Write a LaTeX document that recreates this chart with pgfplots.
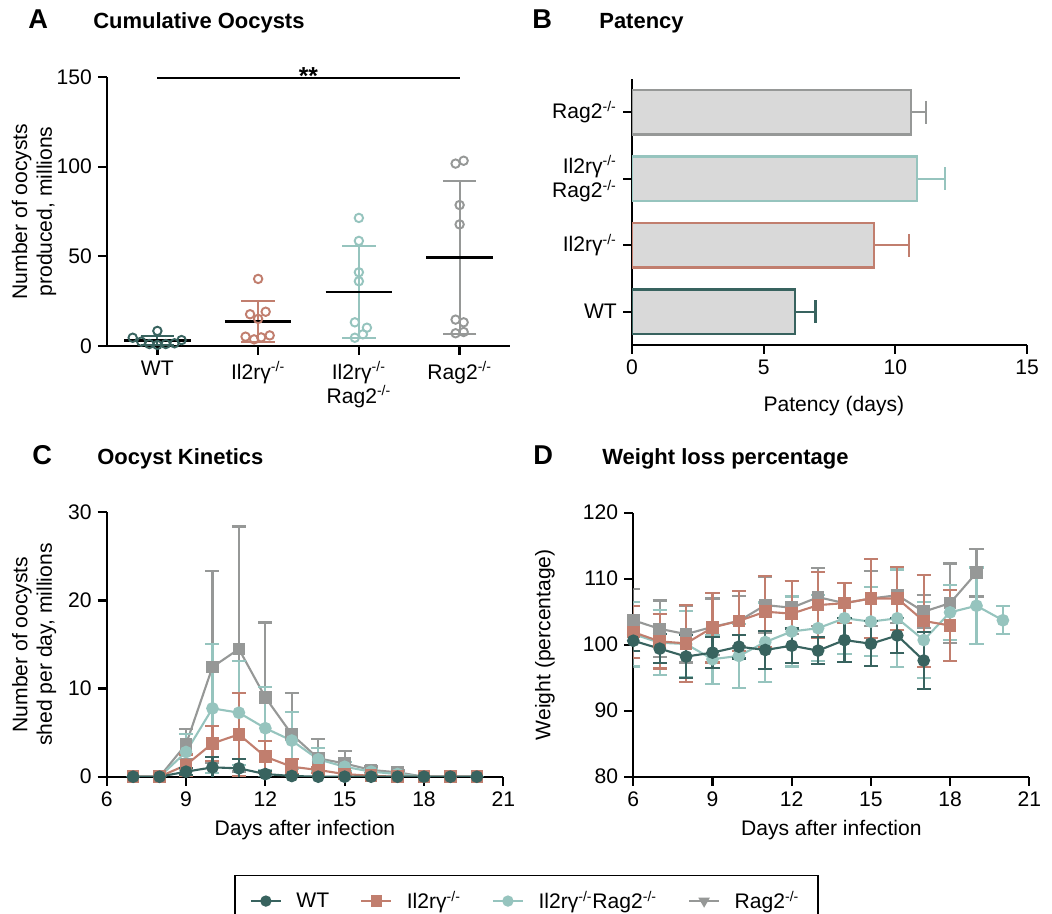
\documentclass[border=0pt]{standalone}
\usepackage{fontspec}
\setmainfont{Liberation Sans}
\usepackage{pgfplots}
\usepackage{pgfplotstable}
\pgfplotsset{compat=1.18}

\definecolor{cWT}{HTML}{38635F}
\definecolor{cIL}{HTML}{C17E6E}
\definecolor{cDK}{HTML}{96C4BE}
\definecolor{cRG}{HTML}{969897}
\definecolor{barfill}{HTML}{D9D9D9}

\newcommand{\ko}{\textsuperscript{-/-}}
\newcommand{\fs}{\fontsize{12}{14}\selectfont}

% kinetics (day, mean, sd), millions per day
\pgfplotstableread{
d m s
7 0 0
8 0 0
9 0.57 0.4
10 1.06 1.2
11 0.95 1.1
12 0.30 0.3
13 0.08 0.05
14 0 0
15 0 0
16 0 0
17 0 0
18 0 0
19 0 0
20 0 0
}\kinWT
\pgfplotstableread{
d m s
7 0 0
8 0 0
9 1.32 1.2
10 3.78 2.0
11 4.80 4.7
12 2.27 1.8
13 1.13 0.84
14 0.76 0.3
15 0.30 0.1
16 0.10 0.05
17 0 0
18 0 0
19 0 0
20 0 0
}\kinIL
\pgfplotstableread{
d m s
7 0 0
8 0 0
9 2.80 2.0
10 7.75 7.3
11 7.26 5.9
12 5.50 4.7
13 4.10 3.2
14 1.97 1.3
15 1.13 0.5
16 0.57 0.3
17 0.30 0.1
18 0 0
19 0 0
20 0 0
}\kinDK
\pgfplotstableread{
d m s
7 0 0
8 0 0
9 3.67 1.7
10 12.44 10.9
11 14.49 13.9
12 9.00 8.5
13 4.80 4.7
14 2.08 2.2
15 1.50 1.4
16 0.76 0.4
17 0.50 0.2
18 0 0
19 0 0
20 0 0
}\kinRG

% weight (day, mean, sd), percent
\pgfplotstableread{
d m s
6 100.6 1.6
7 99.4 2.2
8 98.2 3.3
9 98.8 2.3
10 99.7 1.8
11 99.2 2.9
12 99.85 2.6
13 99.1 2.0
14 100.7 3.3
15 100.15 3.4
16 101.4 2.7
17 97.6 4.3
}\wtWT
\pgfplotstableread{
d m s
6 101.9 3.9
7 100.5 4.1
8 100.2 5.8
9 102.6 5.3
10 103.6 4.6
11 105.0 5.4
12 104.7 5.0
13 106.0 5.0
14 106.3 3.0
15 107.0 6.0
16 107.0 4.8
17 103.6 7.0
18 102.9 5.4
}\wtIL
\pgfplotstableread{
d m s
6 101.6 4.9
7 100.3 4.9
8 100.1 5.0
9 97.8 3.7
10 98.3 4.8
11 100.4 6.0
12 102.0 5.3
13 102.5 5.0
14 104.0 5.4
15 103.5 5.2
16 104.0 7.4
17 100.7 5.8
18 104.9 4.2
19 105.9 5.8
20 103.7 2.1
}\wtDK
\pgfplotstableread{
d m s
6 103.7 4.7
7 102.4 4.3
8 101.6 4.3
9 102.7 4.3
10 103.6 3.8
11 106.0 4.2
12 105.6 4.0
13 107.2 4.4
14 106.3 3.0
15 107.0 4.2
16 107.5 4.2
17 105.0 2.5
18 106.3 6.0
19 110.9 3.6
}\wtRG

\pgfplotsset{
  prism/.style={scale only axis, anchor=south west,
    axis x line*=bottom, axis y line*=left,
    axis line style={line width=1.3pt},
    every tick/.style={black, line width=1.3pt},
    major tick length=0.18cm, tick align=outside,
    tick label style={font=\fs}, label style={font=\fs},
    /pgf/number format/assume math mode=true},
  ser/.style={color=#1, line width=1.2pt, mark options={solid, fill=#1},
    error bars/.cd, y dir=both, y explicit,
    error bar style={color=#1, line width=1.2pt},
    error mark options={rotate=90, color=#1, line width=1.2pt, mark size=4pt},
    /pgfplots/.cd},
  dots/.style={only marks, mark=o, mark size=2.4pt, color=#1, mark options={line width=1.1pt}},
  sdbar/.style={color=#1, mark=none, forget plot,
    error bars/.cd, y dir=both, y explicit,
    error bar style={color=#1, line width=1.2pt},
    error mark options={rotate=90, color=#1, line width=1.2pt, mark size=9.5pt},
    /pgfplots/.cd},
  hbar/.style={xbar, bar width=0.67, bar shift=0pt, fill=barfill, draw=#1, line width=1.2pt,
    error bars/.cd, x dir=plus, x explicit,
    error bar style={color=#1, line width=1.2pt},
    error mark options={rotate=90, color=#1, line width=1.2pt, mark size=6.5pt},
    /pgfplots/.cd},
}

\begin{document}
\begin{tikzpicture}
\useasboundingbox (0,0) rectangle (21.04cm,18.28cm);

% panel titles
\node[anchor=base west, inner sep=0, font=\fontsize{15.5}{18}\selectfont\bfseries] at (0.56cm,17.7cm) {A};
\node[anchor=base west, inner sep=0, font=\fontsize{12.5}{15}\selectfont\bfseries] at (1.86cm,17.7cm) {Cumulative Oocysts};
\node[anchor=base west, inner sep=0, font=\fontsize{15.5}{18}\selectfont\bfseries] at (10.64cm,17.7cm) {B};
\node[anchor=base west, inner sep=0, font=\fontsize{12.5}{15}\selectfont\bfseries] at (11.98cm,17.7cm) {Patency};
\node[anchor=base west, inner sep=0, font=\fontsize{15.5}{18}\selectfont\bfseries] at (0.64cm,8.98cm) {C};
\node[anchor=base west, inner sep=0, font=\fontsize{12.5}{15}\selectfont\bfseries] at (1.94cm,8.98cm) {Oocyst Kinetics};
\node[anchor=base west, inner sep=0, font=\fontsize{15.5}{18}\selectfont\bfseries] at (10.66cm,8.98cm) {D};
\node[anchor=base west, inner sep=0, font=\fontsize{12.5}{15}\selectfont\bfseries] at (12.04cm,8.98cm) {Weight loss percentage};

% A: cumulative oocysts
\begin{axis}[prism, at={(2.14cm,11.36cm)}, width=8.06cm, height=5.38cm,
  xmin=-0.5, xmax=3.5, ymin=0, ymax=150, ytick={0,50,100,150},
  xtick={0,1,2,3},
  xticklabels={WT, Il2rγ\ko, {Il2rγ\ko\\Rag2\ko}, Rag2\ko},
  xticklabel style={align=center},
  ylabel={Number of oocysts\\produced, millions},
  ylabel style={at={(axis description cs:-0.181,0.5)}, anchor=center, align=center},
  clip=false]
\addplot[dots=cWT] coordinates {(-0.245,4.6) (-0.16,2.4) (-0.08,1.1) (0,8.4) (0,0.6) (0.083,1.1) (0.17,1.5) (0.24,3.3)};
\addplot[dots=cIL] coordinates {(1,37.4) (0.92,17.7) (1.075,19.1) (1,15.1) (0.875,5.2) (0.96,3.7) (1.03,4.8) (1.115,5.9)};
\addplot[dots=cDK] coordinates {(2,71.4) (2,58.6) (2,41.1) (2,36.1) (1.96,13.2) (2.08,10.2) (2.04,6.5) (1.96,4.6)};
\addplot[dots=cRG] coordinates {(2.96,101.7) (3.04,103.3) (3,78.6) (3,67.8) (2.96,14.7) (3.04,13.2) (2.96,7.1) (3.04,7.8)};
\addplot[sdbar=cWT] coordinates {(0,3.0) +- (0,2.6)};
\addplot[sdbar=cIL] coordinates {(1,13.6) +- (0,11.6)};
\addplot[sdbar=cDK] coordinates {(2,30.1) +- (0,25.6)};
\addplot[sdbar=cRG] coordinates {(3,49.4) +- (0,42.8)};
\addplot[black, line width=1.5pt] coordinates {(-0.33,3.0) (0.33,3.0)};
\addplot[black, line width=1.5pt] coordinates {(0.67,13.6) (1.33,13.6)};
\addplot[black, line width=1.5pt] coordinates {(1.67,30.1) (2.33,30.1)};
\addplot[black, line width=1.5pt] coordinates {(2.67,49.4) (3.33,49.4)};
\addplot[black, line width=1.2pt] coordinates {(0,149.6) (3,149.6)};
\node[anchor=base, inner sep=0, font=\fontsize{14}{16}\selectfont\bfseries, yshift=-0.13cm] at (axis cs:1.5,149.6) {**};
\end{axis}

% B: patency
\begin{axis}[prism, at={(12.64cm,11.38cm)}, width=7.9cm, height=5.32cm,
  xmin=0, xmax=15, ymin=-0.5, ymax=3.5, xtick={0,5,10,15},
  ytick={0,1,2,3},
  yticklabels={WT, Il2rγ\ko, {Il2rγ\ko\\Rag2\ko}, Rag2\ko},
  yticklabel style={align=right},
  xlabel={Patency (days)},
  xlabel style={at={(axis description cs:0.511,-0.229)}, anchor=center}]
\addplot[hbar=cWT] coordinates {(6.19,0) +- (0.78,0)};
\addplot[hbar=cIL] coordinates {(9.20,1) +- (1.32,0)};
\addplot[hbar=cDK] coordinates {(10.83,2) +- (1.04,0)};
\addplot[hbar=cRG] coordinates {(10.58,3) +- (0.57,0)};
\end{axis}

% C: oocyst kinetics
\begin{axis}[prism, at={(2.134cm,2.746cm)}, width=7.932cm, height=5.288cm,
  xmin=6, xmax=21, ymin=0, ymax=30, xtick={6,9,...,21}, ytick={0,10,20,30},
  xlabel={Days after infection},
  xlabel style={at={(axis description cs:0.5,-0.2)}, anchor=center},
  ylabel={Number of oocysts\\shed per day, millions},
  ylabel style={at={(axis description cs:-0.183,0.5)}, anchor=center, align=center},
  legend style={at={(axis description cs:1.058,-0.37)}, anchor=north,
    legend columns=4, draw=black, line width=0.9pt, font=\fs,
    inner xsep=0.3cm, inner ysep=0.24cm,
    /tikz/every odd column/.append style={column sep=0.22cm},
    /tikz/every even column/.append style={column sep=0.55cm}},
  legend cell align=left]
\addplot[mark=square*, mark size=3pt, forget plot, ser=cRG] table[x=d, y=m, y error=s] {\kinRG};
\addplot[mark=*, mark size=3pt, forget plot, ser=cDK] table[x=d, y=m, y error=s] {\kinDK};
\addplot[mark=square*, mark size=3pt, forget plot, ser=cIL] table[x=d, y=m, y error=s] {\kinIL};
\addplot[mark=*, mark size=3pt, forget plot, ser=cWT] table[x=d, y=m, y error=s] {\kinWT};
\addlegendimage{color=cWT, line width=1.2pt, mark=*, mark size=2.6pt, mark options={fill=cWT}}
\addlegendentry{WT}
\addlegendimage{color=cIL, line width=1.2pt, mark=square*, mark size=2.6pt, mark options={fill=cIL}}
\addlegendentry{Il2rγ\ko}
\addlegendimage{color=cDK, line width=1.2pt, mark=*, mark size=2.6pt, mark options={fill=cDK}}
\addlegendentry{Il2rγ\ko Rag2\ko}
\addlegendimage{color=cRG, line width=1.2pt, mark=triangle*, mark size=2.6pt, mark options={fill=cRG, rotate=180}}
\addlegendentry{Rag2\ko}
\end{axis}

% D: weight
\begin{axis}[prism, at={(12.666cm,2.746cm)}, width=7.92cm, height=5.28cm,
  xmin=6, xmax=21, ymin=80, ymax=120, xtick={6,9,...,21}, ytick={80,90,...,120},
  xlabel={Days after infection},
  xlabel style={at={(axis description cs:0.5,-0.202)}, anchor=center},
  ylabel={Weight (percentage)},
  ylabel style={at={(axis description cs:-0.223,0.5)}, anchor=center}]
\addplot[mark=square*, mark size=3pt, ser=cRG] table[x=d, y=m, y error=s] {\wtRG};
\addplot[mark=*, mark size=3pt, ser=cDK] table[x=d, y=m, y error=s] {\wtDK};
\addplot[mark=square*, mark size=3pt, ser=cIL] table[x=d, y=m, y error=s] {\wtIL};
\addplot[mark=*, mark size=3pt, ser=cWT] table[x=d, y=m, y error=s] {\wtWT};
\end{axis}
\end{tikzpicture}
\end{document}
